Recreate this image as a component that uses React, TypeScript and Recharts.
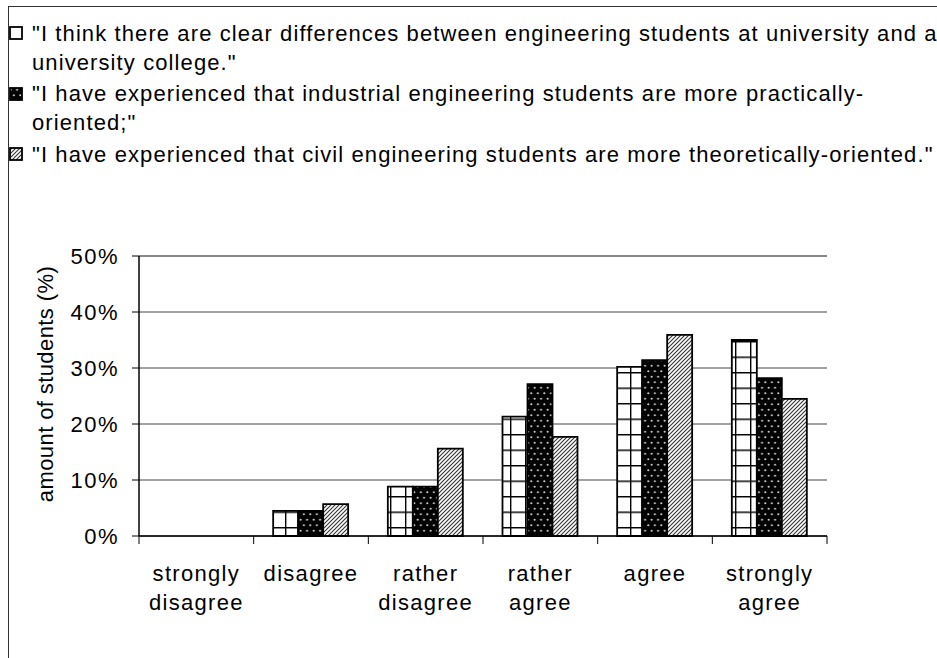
import React from 'react';
import { BarChart, Bar, XAxis, YAxis, CartesianGrid, ReferenceLine } from 'recharts';

const categories = ['strongly disagree', 'disagree', 'rather disagree', 'rather agree', 'agree', 'strongly agree'];
const universityDiff = [0, 4.5, 8.8, 21.3, 30.2, 35.0];
const industrialPractical = [0, 4.5, 8.8, 27.1, 31.4, 28.2];
const civilTheoretical = [0, 5.7, 15.6, 17.7, 35.9, 24.5];
const yTicks = [0, 10, 20, 30, 40, 50];
const yTitle = 'amount of students (%)';
const legendLines = [
  ['"I think there are clear differences between engineering students at university and at', 'university college."'],
  ['"I have experienced that industrial engineering students are more practically-', 'oriented;"'],
  ['"I have experienced that civil engineering students are more theoretically-oriented."'],
];

const data = categories.map((name, i) => ({
  name,
  university: universityDiff[i],
  industrial: industrialPractical[i],
  civil: civilTheoretical[i],
}));

const FONT = '"Liberation Sans", Arial, sans-serif';

const CategoryTick = (props: any) => {
  const { x, y, payload, index } = props;
  const half = payload && typeof payload.offset === 'number' ? payload.offset : 0;
  const words = String(payload.value).split(' ');
  const isLast = index === categories.length - 1;
  return (
    <g>
      <line x1={x - half} x2={x - half} y1={y - 8} y2={y} stroke="#000" strokeWidth={1} />
      {isLast && <line x1={x + half} x2={x + half} y1={y - 8} y2={y} stroke="#000" strokeWidth={1} />}
      {words.map((w, k) => (
        <text key={k} x={x} y={y + 37 + k * 29} textAnchor="middle" fill="#000"
          style={{ fontFamily: FONT, fontSize: 22, letterSpacing: '1.3px' }}>{w}</text>
      ))}
    </g>
  );
};

const YTitle = (props: any) => {
  const vb = props.viewBox || { x: 0, y: 256, width: 139, height: 280 };
  const cx = vb.x + 45;
  const cy = vb.y + vb.height / 2 - 12;
  return (
    <text x={cx} y={cy} transform={`rotate(-90 ${cx} ${cy})`} textAnchor="middle" dominantBaseline="central"
      fill="#000" style={{ fontFamily: FONT, fontSize: 22, letterSpacing: '0.4px' }}>{yTitle}</text>
  );
};

const markerFills = ['#fff', 'url(#dotPat)', 'url(#hatchPat)'];

export default function App() {
  return (
    <div style={{ position: 'absolute', left: 0, top: 0, width: 937, height: 658, overflow: 'hidden', background: '#fff' }}>
      <div style={{ position: 'absolute', left: 7.5, top: 5.5, width: 960, height: 700, borderLeft: '1.5px solid #333', borderTop: '1.5px solid #333' }} />
      <div style={{ position: 'absolute', left: 0, top: 0 }}>
        <BarChart width={937} height={658} data={data} margin={{ top: 256, right: 110, bottom: 0, left: 0 }}
          barCategoryGap="17%" barGap={0}>
          <defs>
            <pattern id="gridPat" patternUnits="userSpaceOnUse" width="15" height="15.5">
              <rect width="15" height="15.5" fill="#fff" />
              <path d="M0 0.7 H15 M0.7 0 V15.5" stroke="#000" strokeWidth="1.4" />
            </pattern>
            <pattern id="dotPat" patternUnits="userSpaceOnUse" width="6.5" height="11">
              <rect width="6.5" height="11" fill="#000" />
              <circle cx="1.6" cy="2.75" r="1.05" fill="#d0d0d0" />
              <circle cx="4.85" cy="8.25" r="1.05" fill="#d0d0d0" />
            </pattern>
            <pattern id="hatchPat" patternUnits="userSpaceOnUse" width="4" height="4">
              <rect width="4" height="4" fill="#fff" />
              <path d="M-1 1 L1 -1 M0 4 L4 0 M3 5 L5 3" stroke="#333" strokeWidth="1.1" />
            </pattern>
          </defs>
          <CartesianGrid horizontal vertical={false} stroke="#444" strokeWidth={1} />
          <XAxis dataKey="name" interval={0} height={122} tickSize={8} tickMargin={0} tickLine={false}
            axisLine={{ stroke: '#000', strokeWidth: 1.5 }} tick={<CategoryTick />} />
          <YAxis width={139} domain={[0, 50]} ticks={yTicks} tickSize={7} tickMargin={13}
            tickFormatter={(v: number) => `${v}%`} axisLine={{ stroke: '#000', strokeWidth: 1.5 }}
            tickLine={{ stroke: '#000' }}
            tick={{ fill: '#000', fontSize: 22, fontFamily: FONT, letterSpacing: 1.5 }} label={<YTitle />} />
          <YAxis yAxisId="right" orientation="right" width={0} tick={false} tickLine={false}
            axisLine={{ stroke: '#888', strokeWidth: 2 }} />
          <ReferenceLine y={50} stroke="#888" strokeWidth={2} />
          <Bar dataKey="university" fill="url(#gridPat)" stroke="#000" strokeWidth={1.8} isAnimationActive={false} />
          <Bar dataKey="industrial" fill="url(#dotPat)" stroke="#000" strokeWidth={1.8} isAnimationActive={false} />
          <Bar dataKey="civil" fill="url(#hatchPat)" stroke="#000" strokeWidth={1.8} isAnimationActive={false} />
        </BarChart>
      </div>
      <div style={{ position: 'absolute', left: 0, top: 18.5, fontFamily: FONT, fontSize: 22, letterSpacing: '1.1px', whiteSpace: 'nowrap', color: '#000' }}>
        {legendLines.map((lines, i) => (
          <div key={i} style={{ position: 'relative', marginBottom: 2.5 }}>
            <svg width={14} height={14} style={{ position: 'absolute', left: 9, top: 7.5 }}>
              <rect x={1} y={1} width={12} height={12} fill={markerFills[i]} stroke="#000" strokeWidth={1.8} />
            </svg>
            {lines.map((l, k) => (
              <div key={k} style={{ paddingLeft: 32, height: 29, lineHeight: '29px' }}>{l}</div>
            ))}
          </div>
        ))}
      </div>
    </div>
  );
}
